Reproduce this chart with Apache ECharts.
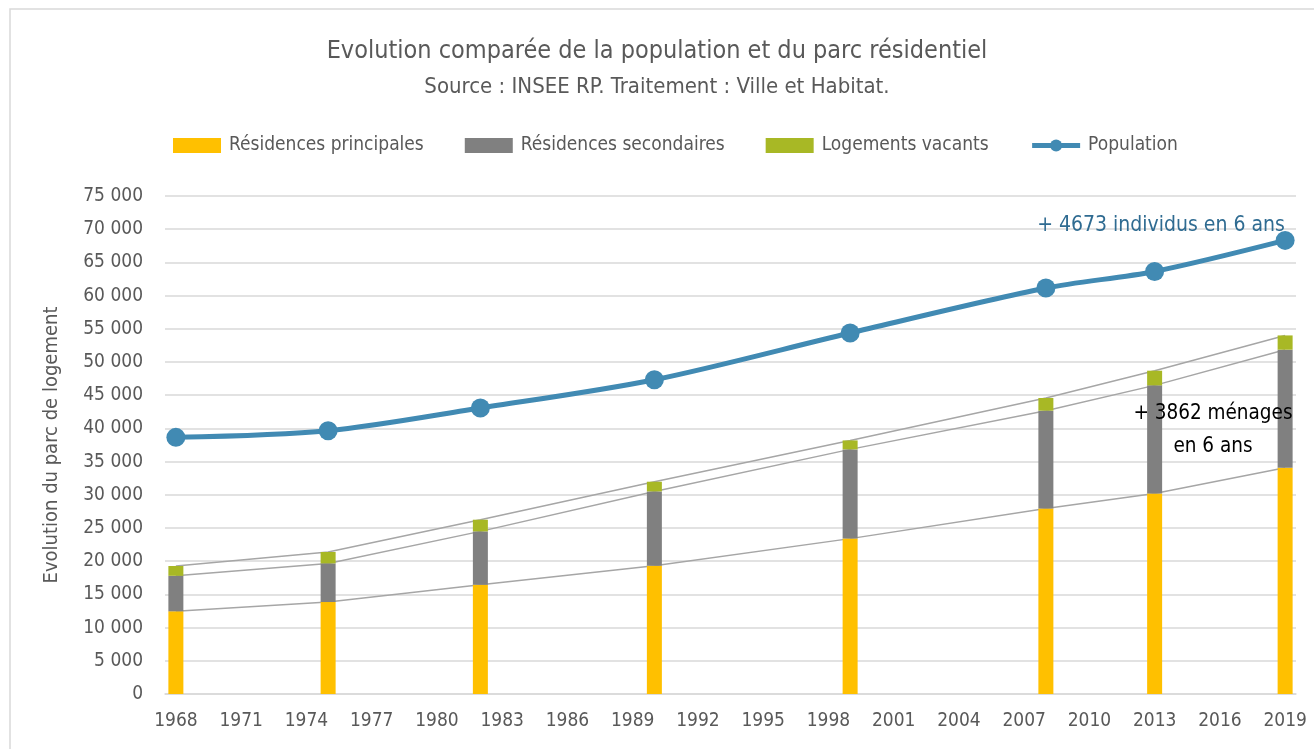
<!DOCTYPE html>
<html>
<head>
<meta charset="utf-8">
<script src="https://cdn.jsdelivr.net/npm/echarts@6/dist/echarts.min.js"></script>
<style>
  html, body { margin: 0; padding: 0; background: #fff; }
  #main { width: 1314px; height: 749px; }
</style>
</head>
<body>
<div id="main"></div>
<script>
// années des recensements
var years = ['1968', '1975', '1982', '1990', '1999', '2008', '2013', '2019'];
// résidences principales
var principales = [12450, 13850, 16450, 19300, 23400, 27950, 30200, 34062];
// résidences secondaires
var secondaires = [5350, 5820, 8040, 11210, 13440, 14720, 16280, 17790];
// logements vacants
var vacants = [1480, 1720, 1760, 1460, 1350, 1910, 2210, 2150];
// population
var population = [38650, 39650, 43070, 47330, 54370, 61140, 63640, 68313];
// axe des abscisses : une case par année (une étiquette sur trois)
var axisYears = [
  '1968', '1969', '1970', '1971', '1972', '1973', '1974', '1975', '1976', '1977',
  '1978', '1979', '1980', '1981', '1982', '1983', '1984', '1985', '1986', '1987',
  '1988', '1989', '1990', '1991', '1992', '1993', '1994', '1995', '1996', '1997',
  '1998', '1999', '2000', '2001', '2002', '2003', '2004', '2005', '2006', '2007',
  '2008', '2009', '2010', '2011', '2012', '2013', '2014', '2015', '2016', '2017',
  '2018', '2019'
];

var FONT = '"DejaVu Sans Condensed", "Liberation Sans Narrow", sans-serif';
var GREY_TXT = '#595959';

function pairs(arr) {
  return years.map(function (y, i) { return [y, arr[i]]; });
}
function fmt(v) {
  return String(v).replace(/\B(?=(\d{3})+(?!\d))/g, ' ');
}

var chart = echarts.init(document.getElementById('main'));

// lignes de séries (reliant les segments empilés)
function serieLine(name, arr) {
  return {
    name: name + '_ligne',
    type: 'line',
    stack: 'lignes',
    data: pairs(arr),
    symbol: 'none',
    lineStyle: { color: '#a6a6a6', width: 1.5 },
    z: 1,
    silent: true,
    legendHoverLink: false
  };
}

function bar(name, arr, color) {
  return {
    name: name,
    type: 'bar',
    stack: 'parc',
    barWidth: 15,
    itemStyle: { color: color },
    data: pairs(arr),
    z: 3
  };
}

var option = {
  animation: false,
  backgroundColor: '#fff',
  textStyle: { fontFamily: FONT },
  title: {
    text: 'Evolution comparée de la population et du parc résidentiel',
    subtext: 'Source : INSEE RP. Traitement : Ville et Habitat.',
    left: 'center',
    top: 34,
    itemGap: 12,
    textStyle: { fontFamily: FONT, fontSize: 25, fontWeight: 'normal', color: GREY_TXT },
    subtextStyle: { fontFamily: FONT, fontSize: 22, color: GREY_TXT }
  },
  legend: {
    top: 131,
    left: 168,
    itemWidth: 48,
    itemHeight: 15,
    itemGap: 41,
    data: [
      { name: 'Résidences principales', icon: 'rect' },
      { name: 'Résidences secondaires', icon: 'rect' },
      { name: 'Logements vacants', icon: 'rect' },
      { name: 'Population', lineStyle: { width: 5 } }
    ],
    textStyle: { fontFamily: FONT, fontSize: 19, color: GREY_TXT, padding: [0, 0, 0, 3] }
  },
  grid: { left: 165, right: 18, top: 196, bottom: 55 },
  xAxis: {
    type: 'category',
    data: axisYears,
    boundaryGap: true,
    axisLine: { show: true, lineStyle: { color: '#d9d9d9', width: 1.5 } },
    axisTick: { show: false },
    splitLine: { show: false },
    axisLabel: {
      interval: 2,
      fontFamily: FONT,
      fontSize: 19,
      color: GREY_TXT,
      margin: 18
    }
  },
  yAxis: {
    type: 'value',
    min: 0,
    max: 75000,
    interval: 5000,
    name: 'Evolution du parc de logement',
    nameLocation: 'middle',
    nameRotate: 90,
    nameGap: 103,
    nameTextStyle: { fontFamily: FONT, fontSize: 20, color: GREY_TXT },
    axisLine: { show: false },
    axisTick: { show: false },
    splitLine: { lineStyle: { color: '#d9d9d9', width: 1.5 } },
    axisLabel: {
      fontFamily: FONT,
      fontSize: 19,
      color: GREY_TXT,
      margin: 22,
      formatter: fmt
    }
  },
  series: [
    serieLine('principales', principales),
    serieLine('secondaires', secondaires),
    serieLine('vacants', vacants),
    bar('Résidences principales', principales, '#ffc000'),
    bar('Résidences secondaires', secondaires, '#808080'),
    bar('Logements vacants', vacants, '#a8b825'),
    {
      name: 'Population',
      type: 'line',
      smooth: 0.3,
      data: pairs(population),
      symbol: 'circle',
      symbolSize: 19,
      showAllSymbol: true,
      itemStyle: { color: '#418ab3' },
      lineStyle: { color: '#418ab3', width: 5 },
      z: 4
    }
  ],
  graphic: [
    {
      type: 'rect',
      shape: { x: 10, y: 9, width: 1400, height: 800 },
      style: { fill: 'none', stroke: '#d9d9d9', lineWidth: 1.5 },
      silent: true,
      z: -10
    },
    {
      type: 'text',
      x: 1161,
      y: 226,
      style: {
        text: '+ 4673 individus en 6 ans',
        font: '21px ' + FONT,
        fill: '#2f6b91',
        align: 'center',
        verticalAlign: 'middle'
      },
      z: 100
    },
    {
      type: 'text',
      x: 1213,
      y: 430,
      style: {
        text: '+ 3862 ménages\nen 6 ans',
        font: '20.5px ' + FONT,
        fill: '#000',
        align: 'center',
        verticalAlign: 'middle',
        lineHeight: 33
      },
      z: 100
    }
  ]
};

chart.setOption(option);
</script>
</body>
</html>
